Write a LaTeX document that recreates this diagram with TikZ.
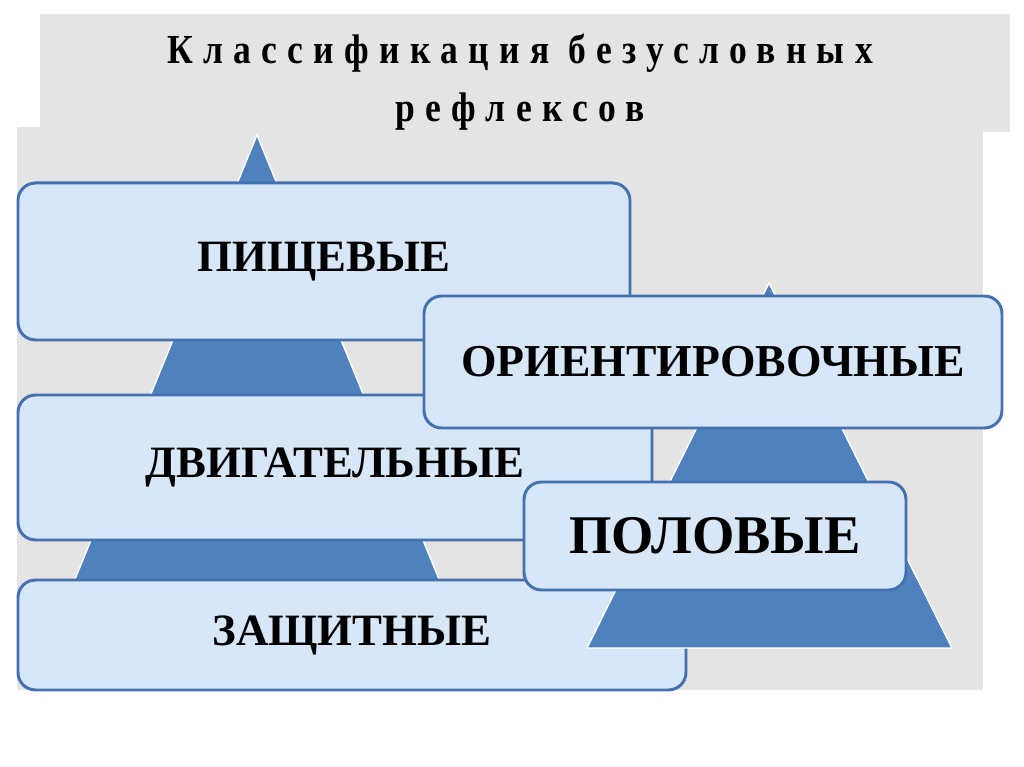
\documentclass[tikz,border=0pt]{standalone}
\usepackage{fontspec}
\setmainfont{Liberation Serif}
\newfontfamily\titlefont{Liberation Serif}[FakeStretch=0.86, LetterSpace=25]
\definecolor{reflexBlue}{RGB}{79,129,189}
\definecolor{reflexEdge}{RGB}{68,114,176}
\definecolor{reflexIce}{RGB}{216,231,248}
\definecolor{reflexGrey}{RGB}{228,228,228}

\begin{document}
\begin{tikzpicture}[
      level/.style={rounded corners=10pt, draw=reflexEdge, line width=1.7pt, fill=reflexIce,
      inner sep=0pt, align=center, font=\bfseries\fontsize{25.5}{28}\selectfont},
      pyramid/.style={fill=reflexBlue, draw=white, line width=0.8pt}
    ]
    \useasboundingbox (0,0) rectangle (20.48,-15.34);
    % textured slide background
    \fill[reflexGrey] (0.80,-0.28) rectangle (20.20,-2.65);
    \fill[reflexGrey] (0.34,-2.54) rectangle (19.66,-13.80);

    \node[anchor=north, inner sep=0pt, align=center, font=\titlefont\bfseries\fontsize{23.5}{33}\selectfont] (title) at (10.40,-0.68)
      {Классификация безусловных\\рефлексов};

    % left pyramid
    \path[pyramid] (5.14,-2.70) -- (9.36,-13.00) -- (0.92,-13.00) -- cycle;
    \node[level, minimum width=12.24cm, minimum height=3.14cm] (food) at (6.48,-5.23) {ПИЩЕВЫЕ};
    \node[level, minimum width=12.68cm, minimum height=2.90cm] (motor) at (6.70,-9.35) {ДВИГАТЕЛЬНЫЕ};
    \node[level, minimum width=13.36cm, minimum height=2.20cm] (defence) at (7.04,-12.70) {ЗАЩИТНЫЕ};

    % right pyramid
    \path[pyramid] (15.38,-5.66) -- (19.04,-12.96) -- (11.74,-12.96) -- cycle;
    \node[level, minimum width=11.56cm, minimum height=2.64cm, font=\bfseries\fontsize{26}{29}\selectfont] (orient) at (14.26,-7.24) {ОРИЕНТИРОВОЧНЫЕ};
    \node[level, minimum width=7.64cm, minimum height=2.16cm, font=\bfseries\fontsize{31}{34}\selectfont] (sexual) at (14.30,-10.72) {ПОЛОВЫЕ};
  \end{tikzpicture}
\end{document}
